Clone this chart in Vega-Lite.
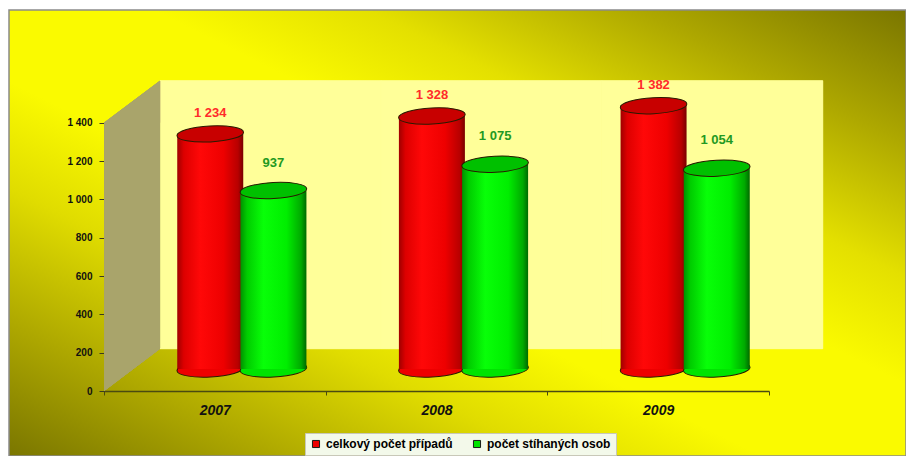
{
  "$schema": "https://vega.github.io/schema/vega-lite/v6.json",
  "width": 897,
  "height": 446,
  "autosize": {"type": "none"},
  "padding": {"left": 9, "top": 10, "right": 0, "bottom": 0},
  "background": "white",
  "config": {
    "font": "Liberation Sans",
    "locale": {"number": {"decimal": ",", "thousands": " ", "grouping": [3], "currency": ["", " Kč"]}},
    "view": {
      "stroke": "#8a8a8a",
      "strokeWidth": 1.5,
      "fill": {
        "gradient": "linear", "x1": 0, "y1": 1, "x2": 1, "y2": 0,
        "stops": [
          {"offset": 0, "color": "#7a7600"},
          {"offset": 0.15, "color": "#aea800"},
          {"offset": 0.3, "color": "#e0dc00"},
          {"offset": 0.42, "color": "#fafa00"},
          {"offset": 0.58, "color": "#fafa00"},
          {"offset": 0.7, "color": "#e4e000"},
          {"offset": 0.85, "color": "#aea800"},
          {"offset": 1, "color": "#7a7600"}
        ]
      }
    }
  },
  "data": {
    "values": [
      {"year": "2007", "series": "celkový počet případů", "value": 1234},
      {"year": "2007", "series": "počet stíhaných osob", "value": 937},
      {"year": "2008", "series": "celkový počet případů", "value": 1328},
      {"year": "2008", "series": "počet stíhaných osob", "value": 1075},
      {"year": "2009", "series": "celkový počet případů", "value": 1382},
      {"year": "2009", "series": "počet stíhaných osob", "value": 1054}
    ]
  },
  "resolve": {"scale": {"x": "independent", "y": "independent"}},
  "layer": [
    {
      "mark": {"type": "rect", "fill": "#ffff99", "stroke": "#ffff99", "strokeWidth": 0.6},
      "encoding": {
        "x": {"field": "year", "type": "nominal", "scale": {"range": [151, 813.7], "paddingInner": 0, "paddingOuter": 0}, "axis": null},
        "y": {"datum": 0, "type": "quantitative", "scale": {"domain": [0, 1400], "range": [338.7, 70.7], "nice": false}, "axis": null},
        "y2": {"datum": 1400}
      }
    },
    {
      "encoding": {
        "x": {
          "field": "year", "type": "nominal",
          "scale": {"range": [95, 760], "paddingInner": 0, "paddingOuter": 0},
          "axis": {
            "orient": "bottom", "offset": -65, "title": null, "tickBand": "extent",
            "labelAngle": 0, "labelFontSize": 14, "labelFontWeight": "bold", "labelFontStyle": "italic",
            "labelColor": "#111", "labelPadding": 8, "tickSize": 4, "tickColor": "#4a4a10",
            "domainColor": "#4a4a10", "domainWidth": 1.5, "grid": false
          }
        },
        "y": {
          "field": "value", "type": "quantitative",
          "scale": {"domain": [0, 1400], "range": [381, 112.7], "nice": false},
          "axis": {
            "orient": "left", "offset": -95, "title": null, "values": [0, 200, 400, 600, 800, 1000, 1200, 1400],
            "format": ",.0f", "labelFontSize": 10, "labelFontWeight": "bold", "labelColor": "#111",
            "labelPadding": 7, "tickSize": 5, "tickColor": "#3a3a20", "domainColor": "#3a3a20", "grid": false
          }
        }
      },
      "layer": [
        {
          "mark": {"type": "point", "shape": "M-110.8,0 L-110.8,-268.3 L-54.8,-310.3 L-54.8,-42.3 Z", "size": 4, "filled": true, "fill": "#a9a46b", "opacity": 1, "strokeWidth": 0},
          "encoding": {
            "x": {"datum": "2007"},
            "y": {"datum": 0}
          }
        },
        {
          "mark": {"type": "tick", "opacity": 0}
        }
      ]
    },
    {
      "encoding": {
        "x": {"field": "year", "type": "nominal", "scale": {"range": [122, 787], "paddingInner": 0, "paddingOuter": 0}, "axis": null},
        "xOffset": {"field": "series", "type": "nominal", "scale": {"paddingInner": 0, "paddingOuter": 0.754}},
        "y": {"field": "value", "type": "quantitative", "scale": {"domain": [0, 1400], "range": [359, 92.3], "nice": false}, "axis": null}
      },
      "layer": [
        {
          "mark": {"type": "point", "shape": "M-1,0 A1,0.24 0 1,0 1,0 A1,0.24 0 1,0 -1,0 Z", "size": 4444, "angle": -3, "filled": true, "opacity": 1, "stroke": "#2a1a00", "strokeWidth": 1},
          "encoding": {
            "y": {"datum": 0},
            "fill": {
              "field": "series", "type": "nominal",
              "scale": {"domain": ["celkový počet případů", "počet stíhaných osob"], "range": ["#ee0000", "#00e400"]},
              "legend": {
                "title": null, "orient": "none", "direction": "horizontal", "legendX": 296, "legendY": 423,
                "padding": 5, "fillColor": "#f3f9ea", "strokeColor": "#c8c8b8",
                "symbolType": "square", "symbolSize": 50, "symbolOpacity": 1, "symbolStrokeColor": "#1a1a1a", "symbolStrokeWidth": 1,
                "labelFontSize": 12, "labelFontWeight": "bold", "labelColor": "#000", "labelOffset": 4, "columnPadding": 18, "labelLimit": 300
              }
            }
          }
        },
        {
          "transform": [{"filter": "datum.series === 'celkový počet případů'"}],
          "mark": {
            "type": "bar", "width": 66,
            "fill": {"gradient": "linear", "x1": 0, "y1": 0, "x2": 1, "y2": 0,
              "stops": [
                {"offset": 0, "color": "#a00000"},
                {"offset": 0.1, "color": "#dd0000"},
                {"offset": 0.35, "color": "#ff0808"},
                {"offset": 0.7, "color": "#ee0000"},
                {"offset": 0.92, "color": "#b80000"},
                {"offset": 1, "color": "#7a0000"}
              ]}
          },
          "encoding": {"y2": {"datum": 0}}
        },
        {
          "transform": [{"filter": "datum.series === 'počet stíhaných osob'"}],
          "mark": {
            "type": "bar", "width": 66,
            "fill": {"gradient": "linear", "x1": 0, "y1": 0, "x2": 1, "y2": 0,
              "stops": [
                {"offset": 0, "color": "#009000"},
                {"offset": 0.1, "color": "#00cc00"},
                {"offset": 0.35, "color": "#08ff08"},
                {"offset": 0.7, "color": "#00ee00"},
                {"offset": 0.92, "color": "#00aa00"},
                {"offset": 1, "color": "#006a00"}
              ]}
          },
          "encoding": {"y2": {"datum": 0}}
        },
        {
          "mark": {"type": "point", "shape": "M-1,0 A1,0.24 0 1,0 1,0 A1,0.24 0 1,0 -1,0 Z", "size": 4444, "angle": -3, "filled": true, "opacity": 1, "stroke": "#2a1a00", "strokeWidth": 1},
          "encoding": {
            "fill": {"condition": {"test": "datum.series === 'celkový počet případů'", "value": "#c80000"}, "value": "#00c000"}
          }
        },
        {
          "transform": [{"filter": "datum.series === 'celkový počet případů'"}],
          "mark": {"type": "text", "dy": -21, "fontSize": 13, "fontWeight": "bold", "baseline": "middle", "align": "center", "color": "#ff2a2a"},
          "encoding": {
            "text": {"field": "value", "type": "quantitative", "format": ",.0f"}
          }
        },
        {
          "transform": [{"filter": "datum.series === 'počet stíhaných osob'"}],
          "mark": {"type": "text", "dy": -28, "fontSize": 13, "fontWeight": "bold", "baseline": "middle", "align": "center", "color": "#229922"},
          "encoding": {
            "text": {"field": "value", "type": "quantitative", "format": ",.0f"}
          }
        }
      ]
    }
  ]
}
